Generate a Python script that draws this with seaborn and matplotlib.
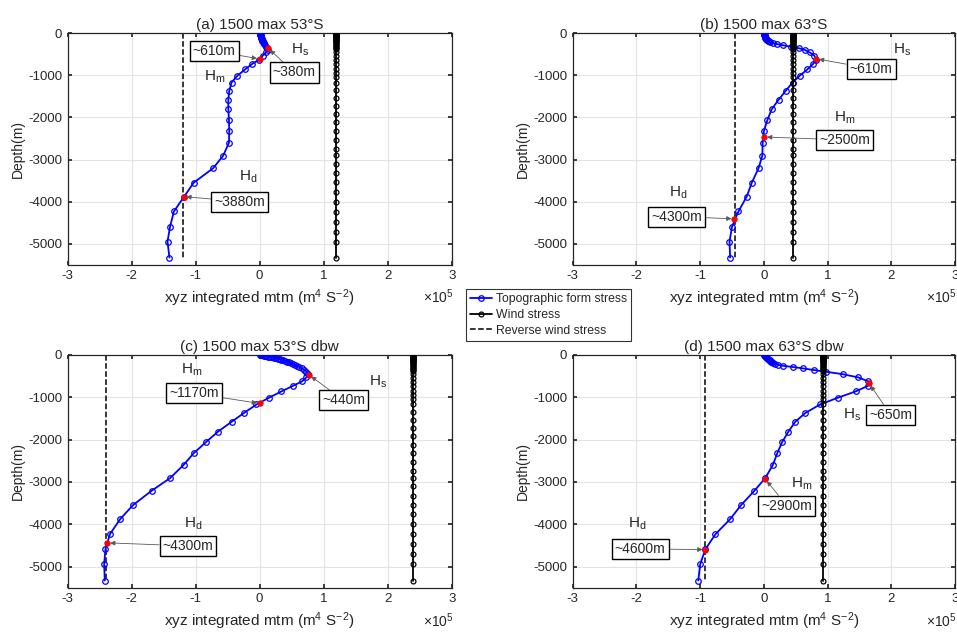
import numpy as np
import pandas as pd
import seaborn as sns
import matplotlib
matplotlib.use("Agg")
import matplotlib.pyplot as plt

# ---------------- data ----------------
# depth levels (m) of the topographic form stress profiles
Z_TFS = [0, 5, 10, 15, 20, 28, 36, 45, 55, 65, 76, 88, 100, 113, 127, 142, 158, 175,
         193, 212, 232, 255, 285, 318, 355, 395, 455, 530, 625, 730, 860, 1010, 1170,
         1370, 1580, 1810, 2060, 2320, 2600, 2910, 3210, 3550, 3880, 4235, 4595, 4950, 5330]
# depth levels (m) of the wind stress profiles
Z_WIND = [0, 8, 16, 24, 32, 40, 50, 60, 70, 80, 92, 104, 116, 130, 144, 160, 176, 194, 212,
          232, 252, 275, 298, 322, 348, 370, 445, 545, 642, 740, 840, 940, 1045, 1170, 1350,
          1540, 1730, 1925, 2120, 2325, 2530, 2740, 2900, 3105, 3325, 3539, 3762, 4000, 4238,
          4475, 4713, 4950, 5330]

# topographic form stress (x 1e5 m^4 s^-2)
TFS_A = [0.0, 0.0, 0.005, 0.005, 0.01, 0.01, 0.01, 0.015, 0.015, 0.02, 0.02, 0.02, 0.025,
         0.025, 0.03, 0.03, 0.035, 0.04, 0.045, 0.05, 0.06, 0.07, 0.085, 0.10, 0.12, 0.13,
         0.10, 0.05, -0.01, -0.12, -0.23, -0.35, -0.44, -0.475, -0.49, -0.49, -0.48, -0.475,
         -0.48, -0.57, -0.73, -1.03, -1.18, -1.34, -1.40, -1.44, -1.41]
TFS_B = [0.0, 0.0, 0.0, 0.002, 0.004, 0.006, 0.008, 0.01, 0.012, 0.014, 0.016, 0.019, 0.022,
         0.026, 0.03, 0.036, 0.045, 0.058, 0.075, 0.10, 0.14, 0.20, 0.30, 0.42, 0.55, 0.64,
         0.72, 0.79, 0.82, 0.77, 0.68, 0.56, 0.45, 0.34, 0.23, 0.12, 0.055, 0.0, -0.02,
         -0.025, -0.085, -0.19, -0.27, -0.40, -0.50, -0.54, -0.53]
TFS_C = [0.0, 0.02, 0.04, 0.06, 0.08, 0.10, 0.13, 0.16, 0.19, 0.22, 0.25, 0.28, 0.31, 0.34,
         0.37, 0.40, 0.43, 0.46, 0.49, 0.52, 0.55, 0.58, 0.62, 0.66, 0.70, 0.73, 0.76, 0.73,
         0.66, 0.52, 0.34, 0.145, -0.05, -0.245, -0.44, -0.65, -0.84, -1.03, -1.19, -1.40,
         -1.69, -1.98, -2.18, -2.34, -2.41, -2.43, -2.42]
TFS_D = [0.0, 0.005, 0.01, 0.015, 0.02, 0.025, 0.03, 0.035, 0.04, 0.05, 0.055, 0.06, 0.07,
         0.08, 0.09, 0.10, 0.115, 0.13, 0.15, 0.18, 0.22, 0.30, 0.46, 0.62, 0.78, 0.97, 1.24,
         1.48, 1.64, 1.63, 1.44, 1.16, 0.88, 0.65, 0.49, 0.385, 0.285, 0.21, 0.14, 0.02,
         -0.15, -0.36, -0.53, -0.76, -0.92, -1.0, -1.03]

# wind stress (x 1e5), reverse wind stress = minus this
WIND = {"a": 1.2, "b": 0.46, "c": 2.4, "d": 0.92}

TITLES = {"a": "(a) 1500 max 53°S", "b": "(b) 1500 max 63°S",
          "c": "(c) 1500 max 53°S dbw", "d": "(d) 1500 max 63°S dbw"}

# red marked depths: (x, depth) for Hs, Hm, Hd
RED_X = {"a": [0.13, 0.0, -1.19], "b": [0.82, 0.005, -0.465],
         "c": [0.77, 0.0, -2.38], "d": [1.65, 0.02, -0.92]}
RED_Z = {"a": [350, 610, 3880], "b": [605, 2465, 4410],
         "c": [470, 1145, 4440], "d": [670, 2930, 4600]}

# annotation boxes: text, position (x, depth), index of red point
BOX_TEXT = {"a": ["~380m", "~610m", "~3880m"], "b": ["~610m", "~2500m", "~4300m"],
            "c": ["~440m", "~1170m", "~4300m"], "d": ["~650m", "~2900m", "~4600m"]}
BOX_X = {"a": [0.54, -0.71, -0.31], "b": [1.68, 1.27, -1.37],
         "c": [1.31, -1.03, -1.12], "d": [1.99, 0.36, -1.94]}
BOX_Z = {"a": [931, 420, 4000], "b": [840, 2535, 4356],
         "c": [1071, 906, 4512], "d": [1418, 3566, 4583]}
# H labels
H_TEXT = ["H$_s$", "H$_m$", "H$_d$"]
H_X = {"a": [0.63, -0.70, -0.18], "b": [2.17, 1.26, -1.35],
       "c": [1.85, -1.06, -1.04], "d": [1.39, 0.60, -1.99]}
H_Z = {"a": [397, 1030, 3406], "b": [397, 2020, 3800],
       "c": [630, 355, 3980], "d": [1418, 3050, 3980]}

TFS = {"a": TFS_A, "b": TFS_B, "c": TFS_C, "d": TFS_D}

# ---------------- style ----------------
sns.set_theme(style="whitegrid", rc={
    "grid.color": "#e3e3e3", "grid.linewidth": 0.8,
    "axes.edgecolor": "#262626", "axes.linewidth": 0.9,
    "xtick.direction": "in", "ytick.direction": "in",
    "xtick.bottom": True, "ytick.left": True,
    "xtick.top": True, "ytick.right": True,
    "xtick.major.size": 3, "ytick.major.size": 3,
    "xtick.color": "#262626", "ytick.color": "#262626",
    "axes.unicode_minus": False,
})
plt.rcParams["font.family"] = ["Liberation Sans", "DejaVu Sans"]
plt.rcParams["mathtext.default"] = "regular"

fig = plt.figure(figsize=(9.57, 6.32), dpi=100)
positions = {
    "a": [0.0707, 0.5812, 0.4013, 0.3661],
    "b": [0.5984, 0.5812, 0.3997, 0.3661],
    "c": [0.0707, 0.0701, 0.4013, 0.3682],
    "d": [0.5984, 0.0701, 0.3997, 0.3682],
}

z_tfs = -np.array(Z_TFS, dtype=float)
z_wind = -np.array(Z_WIND, dtype=float)

legend_handles = None
for key in ["a", "b", "c", "d"]:
    ax = fig.add_axes(positions[key])
    w = WIND[key]
    sns.lineplot(x=TFS[key], y=z_tfs, sort=False, estimator=None, ax=ax,
                 color="blue", lw=1.3, marker="o", markersize=4,
                 markerfacecolor="none", markeredgecolor="blue", markeredgewidth=0.9,
                 label="Topographic form stress", zorder=3)
    sns.lineplot(x=np.full(len(Z_WIND), w), y=z_wind, sort=False, estimator=None, ax=ax,
                 color="black", lw=1.3, marker="o", markersize=3.5,
                 markerfacecolor="none", markeredgecolor="black", markeredgewidth=0.9,
                 label="Wind stress", zorder=3)
    sns.lineplot(x=[-w, -w], y=[z_wind[0], z_wind[-1]], sort=False, estimator=None, ax=ax,
                 color="black", lw=1.1, linestyle="--", label="Reverse wind stress", zorder=2)
    sns.scatterplot(x=RED_X[key], y=-np.array(RED_Z[key], dtype=float), ax=ax,
                    color="red", s=16, edgecolor="red", linewidth=0.5, zorder=5)

    if legend_handles is None:
        legend_handles, legend_labels = ax.get_legend_handles_labels()
    if ax.get_legend() is not None:
        ax.get_legend().remove()

    for i in range(3):
        ax.annotate(BOX_TEXT[key][i],
                    xy=(RED_X[key][i], -RED_Z[key][i]),
                    xytext=(BOX_X[key][i], -BOX_Z[key][i]),
                    ha="center", va="center", fontsize=10,
                    bbox=dict(boxstyle="square,pad=0.22", fc="white", ec="black", lw=1.0),
                    arrowprops=dict(arrowstyle="-|>", color="0.35", lw=0.6,
                                    mutation_scale=7, shrinkA=0, shrinkB=2),
                    zorder=6)
        ax.text(H_X[key][i], -H_Z[key][i], H_TEXT[i], ha="center", va="center",
                fontsize=11, zorder=6)

    ax.set_xlim(-3, 3)
    ax.set_ylim(-5500, 0)
    ax.set_xticks([-3, -2, -1, 0, 1, 2, 3])
    ax.set_yticks([-5000, -4000, -3000, -2000, -1000, 0])
    ax.tick_params(labelsize=9.5, pad=4)
    ax.set_title(TITLES[key], fontsize=11, pad=3)
    ax.set_xlabel("xyz integrated mtm (m$^4$ S$^{-2}$)", fontsize=11, labelpad=4)
    ax.set_ylabel("Depth(m)", fontsize=10, labelpad=2)
    ax.text(1.005, -0.14, r"$\times10^5$", transform=ax.transAxes, ha="right",
            va="center", fontsize=10, color="#262626")
    ax.grid(True)
    for s in ax.spines.values():
        s.set_visible(True)

leg = fig.legend(legend_handles, legend_labels, loc="upper left",
                 bbox_to_anchor=(466 / 957, 1 - 289 / 632), borderaxespad=0,
                 fontsize=8.8, frameon=True, fancybox=False, edgecolor="black",
                 handlelength=1.8, handletextpad=0.3, labelspacing=0.3,
                 borderpad=0.35)
leg.get_frame().set_linewidth(0.8)

fig.savefig("out.png", dpi=100)
